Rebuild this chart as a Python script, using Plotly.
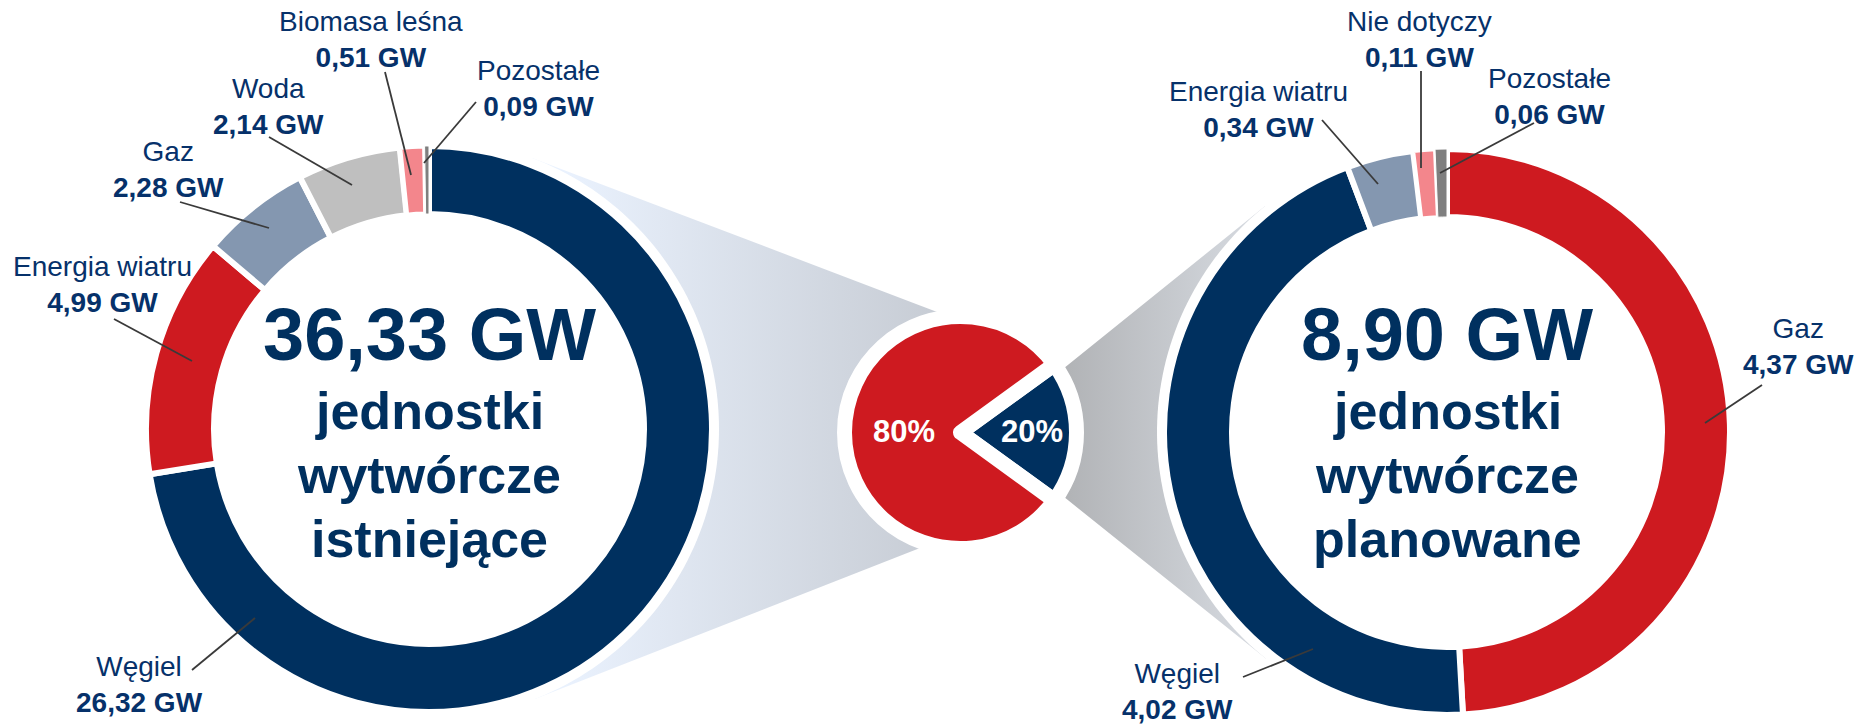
import numpy as np
import plotly.graph_objects as go

# ---------------- data ----------------
left_labels = ["Węgiel", "Energia wiatru", "Gaz", "Woda", "Biomasa leśna", "Pozostałe"]
left_values = [26.32, 4.99, 2.28, 2.14, 0.51, 0.09]
right_labels = ["Gaz", "Węgiel", "Energia wiatru", "Nie dotyczy", "Pozostałe"]
right_values = [4.37, 4.02, 0.34, 0.11, 0.06]
share_labels = ["planowane", "istniejące"]
share_values = [20, 80]
left_title = ["jednostki", "wytwórcze", "istniejące"]
right_title = ["jednostki", "wytwórcze", "planowane"]

# ---------------- styles ----------------
NAVY = "#00305F"
RED = "#CE1A20"
COLORS = {"Węgiel": NAVY, "Energia wiatru": RED, "Gaz": "#8497B0", "Woda": "#BFBFBF",
          "Biomasa leśna": "#F3868C", "Pozostałe": "#7F7F7F", "Nie dotyczy": "#F3868C"}
RIGHT_COLORS = {"Gaz": RED, "Węgiel": NAVY, "Energia wiatru": "#8497B0",
                "Nie dotyczy": "#F3868C", "Pozostałe": "#7F7F7F"}
LEFT_BORDERS = [6, 6, 6, 6, 5, 1]
RIGHT_BORDERS = [6, 6, 6, 4, 1]
TXT = "#06316A"
FONT = "Liberation Sans, Arial, sans-serif"

W, H = 1858, 724
LC = (429.0, 429.0)      # left donut centre (px)
RC = (1447.0, 432.0)     # right donut centre
MC = (960.5, 432.5)      # middle pie centre
R_VIS = 280.0
D_BORDER = 6
R_PATH = R_VIS + D_BORDER / 2
HOLE = (218.0 - D_BORDER / 2) / R_PATH
M_VIS = 108.5
M_BORDER = 15
M_PATH = M_VIS + M_BORDER / 2
WHITE_BIG = 290.0
WHITE_MID = 122.5


def fmt(v):
    return f"{v:.2f}".replace(".", ",")


def circle(c, r, n=240):
    t = np.linspace(0, 2 * np.pi, n)
    return c[0] + r * np.cos(t), c[1] + r * np.sin(t)


def on_circle(c, r, deg):
    a = np.radians(deg)
    return (c[0] + r * np.cos(a), c[1] - r * np.sin(a))


def tangent(p, c, r, upper):
    dx, dy = p[0] - c[0], p[1] - c[1]
    d = np.hypot(dx, dy)
    base = np.arctan2(dy, dx)
    al = np.arccos(r / d)
    pts = [(c[0] + r * np.cos(base + s * al), c[1] + r * np.sin(base + s * al)) for s in (1, -1)]
    pts.sort(key=lambda q: q[1])
    return pts[0] if upper else pts[1]


fig = go.Figure()

# funnel connecting left donut to middle pie
lu = on_circle(MC, WHITE_MID, 100.7)
ll = on_circle(MC, WHITE_MID, 250.7)
tu = tangent(lu, LC, WHITE_BIG, True)
tl = tangent(ll, LC, WHITE_BIG, False)
px = [LC[0], tu[0], lu[0], MC[0], ll[0], tl[0], LC[0]]
py = [LC[1], tu[1], lu[1], MC[1], ll[1], tl[1], LC[1]]
fig.add_trace(go.Scatter(x=px, y=py, fill="toself", mode="none", hoverinfo="skip",
                         fillgradient=dict(type="horizontal", start=560, stop=950,
                                           colorscale=[[0, "#EAF2FE"], [1, "#C6CBD3"]])))
# funnel connecting middle pie to right donut
ru = on_circle(MC, 123.3, 32)
rl = on_circle(MC, 123.3, -32)
tru = tangent(ru, RC, WHITE_BIG, True)
trl = tangent(rl, RC, WHITE_BIG, False)
px = [MC[0], ru[0], tru[0], RC[0], trl[0], rl[0], MC[0]]
py = [MC[1], ru[1], tru[1], RC[1], trl[1], rl[1], MC[1]]
fig.add_trace(go.Scatter(x=px, y=py, fill="toself", mode="none", hoverinfo="skip",
                         fillgradient=dict(type="horizontal", start=1065, stop=1250,
                                           colorscale=[[0, "#B1B3B6"], [1, "#D5D9DF"]])))
# white discs
for c, r in ((LC, WHITE_BIG), (RC, WHITE_BIG), (MC, WHITE_MID)):
    cx, cy = circle(c, r)
    fig.add_trace(go.Scatter(x=cx, y=cy, fill="toself", fillcolor="white", mode="none",
                             hoverinfo="skip"))


def dom(c, r):
    return dict(x=[(c[0] - r) / W, (c[0] + r) / W], y=[1 - (c[1] + r) / H, 1 - (c[1] - r) / H])


fig.add_trace(go.Pie(labels=left_labels, values=left_values, sort=False, direction="clockwise",
                     rotation=0, hole=HOLE, domain=dom(LC, R_PATH), textinfo="none",
                     hoverinfo="label+value",
                     marker=dict(colors=[COLORS[l] for l in left_labels],
                                 line=dict(color="white", width=LEFT_BORDERS))))
fig.add_trace(go.Pie(labels=right_labels, values=right_values, sort=False, direction="clockwise",
                     rotation=0, hole=HOLE, domain=dom(RC, R_PATH), textinfo="none",
                     hoverinfo="label+value",
                     marker=dict(colors=[RIGHT_COLORS[l] for l in right_labels],
                                 line=dict(color="white", width=RIGHT_BORDERS))))
share_rot = 90 - share_values[0] / sum(share_values) * 360 / 2
fig.add_trace(go.Pie(labels=share_labels, values=share_values, sort=False, direction="clockwise",
                     rotation=share_rot, domain=dom(MC, M_PATH), textinfo="none",
                     hoverinfo="label+percent",
                     marker=dict(colors=[NAVY, RED], line=dict(color="white", width=M_BORDER))))

ann = []
shapes = []

# centre titles
for c, vals, lines in ((LC, left_values, left_title), (RC, right_values, right_title)):
    ann.append(dict(x=c[0], y=334, text=f"<b>{fmt(sum(vals))} GW</b>",
                    font=dict(size=74, color=NAVY, family=FONT)))
    for i, t in enumerate(lines):
        ann.append(dict(x=c[0], y=411 + 64 * i, text=f"<b>{t}</b>",
                        font=dict(size=52, color=NAVY, family=FONT)))

# percentages in middle pie
pct = [v / sum(share_values) * 100 for v in share_values]
for lab, p, xx in zip(share_labels, pct, (1032, 904)):
    ann.append(dict(x=xx, y=431, text=f"<b>{p:.0f}%</b>",
                    font=dict(size=31, color="white", family=FONT)))

# label placement: label -> (text centre x, text centre y, leader start, leader end)
LEFT_POS = {
    "Biomasa leśna": (371, 39, (385, 72), (411, 175)),
    "Pozostałe": (538, 88, (476, 102), (424, 163)),
    "Woda": (268, 106, (269, 137), (352, 185)),
    "Gaz": (168, 169, (180, 202), (269, 228)),
    "Energia wiatru": (102, 284, (114, 319), (192, 361)),
    "Węgiel": (139, 684, (192, 670), (255, 618)),
}
RIGHT_POS = {
    "Nie dotyczy": (1419, 39, (1421, 71), (1421, 168)),
    "Pozostałe": (1549, 96, (1534, 123), (1440, 173)),
    "Energia wiatru": (1258, 109, (1322, 120), (1378, 184)),
    "Gaz": (1798, 346, (1762, 385), (1705, 423)),
    "Węgiel": (1177, 691, (1243, 677), (1313, 649)),
}
for labels, values, pos in ((left_labels, left_values, LEFT_POS), (right_labels, right_values, RIGHT_POS)):
    for lab, v in zip(labels, values):
        x, y, a, b = pos[lab]
        ann.append(dict(x=x, y=y, text=f"{lab}<br><b>{fmt(v)} GW</b>",
                        font=dict(size=28, color=TXT, family=FONT)))
        shapes.append(dict(type="line", xref="x", yref="y", x0=a[0], y0=a[1], x1=b[0], y1=b[1],
                           line=dict(color="#3A3A3A", width=1.8), layer="above"))

for a in ann:
    a.update(xref="x", yref="y", showarrow=False, xanchor="center", yanchor="middle")

fig.update_layout(
    width=W, height=H, margin=dict(l=0, r=0, t=0, b=0), showlegend=False,
    paper_bgcolor="white", plot_bgcolor="white",
    xaxis=dict(range=[0, W], visible=False, fixedrange=True, domain=[0, 1]),
    yaxis=dict(range=[H, 0], visible=False, fixedrange=True, domain=[0, 1]),
    annotations=ann, shapes=shapes,
)
fig.write_html("out.html", config={"displayModeBar": False},
               post_script="document.body.style.margin='0px';document.body.style.overflow='hidden';")
